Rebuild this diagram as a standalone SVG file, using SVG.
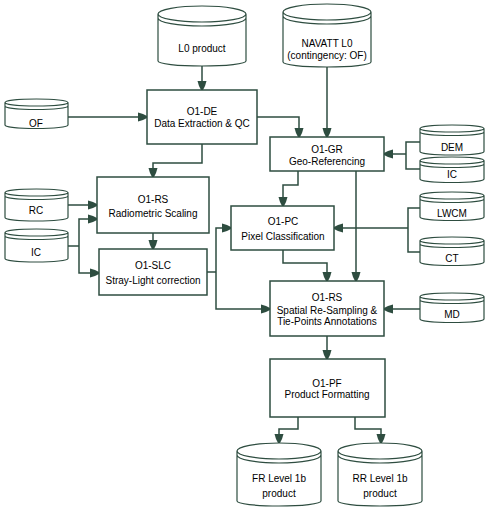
<svg xmlns="http://www.w3.org/2000/svg" width="490" height="512" viewBox="0 0 490 512">
<defs>
<style>
.box{fill:#fff;stroke:#2e4d40;stroke-width:1.5}
.cyl{fill:#fff;stroke:#2e4d40;stroke-width:1.2}
.c{fill:none;stroke:#2e4d40;stroke-width:1.5}
text{font-family:"Liberation Sans",Arial,sans-serif;font-size:10px;fill:#000;text-anchor:middle}
</style>
<marker id="ah" viewBox="-10 -5 10 10" refX="0" refY="0" markerWidth="10" markerHeight="10" markerUnits="userSpaceOnUse" orient="auto">
<path d="M-9,-4.5 L-9,4.5 L-4,3 L0,1 L0,-1 L-4,-3 Z" fill="#2e4d40"/>
</marker>
</defs>
<rect width="490" height="512" fill="#fff"/>
<g id="connectors">
<path class="c" d="M202 65 V90" marker-end="url(#ah)"/>
<path class="c" d="M68 117 H147" marker-end="url(#ah)"/>
<path class="c" d="M257 117 H299 V137" marker-end="url(#ah)"/>
<path class="c" d="M327 67 V137" marker-end="url(#ah)"/>
<path class="c" d="M202 144 V163 H153 V177" marker-end="url(#ah)"/>
<path class="c" d="M68 205 H97" marker-end="url(#ah)"/>
<path class="c" d="M68 246 H79"/>
<path class="c" d="M79 246 V219 H97" marker-end="url(#ah)"/>
<path class="c" d="M79 246 V273 H99" marker-end="url(#ah)"/>
<path class="c" d="M153 233 V249" marker-end="url(#ah)"/>
<path class="c" d="M207 272 H216"/>
<path class="c" d="M216 272 V228 H231" marker-end="url(#ah)"/>
<path class="c" d="M216 272 V309 H270" marker-end="url(#ah)"/>
<path class="c" d="M298 171 V185 H283 V206" marker-end="url(#ah)"/>
<path class="c" d="M356 171 V281" marker-end="url(#ah)"/>
<path class="c" d="M283 250 V263 H327 V281" marker-end="url(#ah)"/>
<path class="c" d="M420 142 H406 V169 H420"/>
<path class="c" d="M406 154 H384" marker-end="url(#ah)"/>
<path class="c" d="M420 208 H408 V252 H420"/>
<path class="c" d="M408 228 H334" marker-end="url(#ah)"/>
<path class="c" d="M420 309 H384" marker-end="url(#ah)"/>
<path class="c" d="M327 336 V359" marker-end="url(#ah)"/>
<path class="c" d="M298 417 V429 H279 V443" marker-end="url(#ah)"/>
<path class="c" d="M355 417 V429 H381 V443" marker-end="url(#ah)"/>
</g>
<g id="L0product">
<path class="cyl" d="M158 14 A44 8 0 0 1 246 14 A44 8 0 0 1 158 14 M158 18 A44 8 0 0 0 246 18 M158 14 V61 A44 5 0 0 0 246 61 V14"/>
<text x="202" y="52">L0 product</text>
</g>
<g id="NAVATT">
<path class="cyl" d="M283 12 A44 8 0 0 1 371 12 A44 8 0 0 1 283 12 M283 16 A44 8 0 0 0 371 16 M283 12 V62 A44 5 0 0 0 371 62 V12"/>
<text x="327" y="47">NAVATT L0</text>
<text x="327" y="59">(contingency: OF)</text>
</g>
<g id="OF">
<path class="cyl" d="M5 102.5 A31.5 3.5 0 0 1 68 102.5 A31.5 3.5 0 0 1 5 102.5 M5 106 A31.5 3.5 0 0 0 68 106 M5 102.5 V125 A31.5 3.5 0 0 0 68 125 V102.5"/>
<text x="36" y="127">OF</text>
</g>
<g id="RC">
<path class="cyl" d="M5 192.5 A31.5 3.5 0 0 1 68 192.5 A31.5 3.5 0 0 1 5 192.5 M5 196 A31.5 3.5 0 0 0 68 196 M5 192.5 V217.5 A31.5 3.5 0 0 0 68 217.5 V192.5"/>
<text x="36" y="214">RC</text>
</g>
<g id="ICleft">
<path class="cyl" d="M5 232.5 A31.5 3.5 0 0 1 68 232.5 A31.5 3.5 0 0 1 5 232.5 M5 236 A31.5 3.5 0 0 0 68 236 M5 232.5 V258.5 A31.5 3.5 0 0 0 68 258.5 V232.5"/>
<text x="36" y="256">IC</text>
</g>
<g id="DEM">
<path class="cyl" d="M420 128.5 A32 3.5 0 0 1 484 128.5 A32 3.5 0 0 1 420 128.5 M420 132 A32 3.5 0 0 0 484 132 M420 128.5 V151.5 A32 3.5 0 0 0 484 151.5 V128.5"/>
<text x="452" y="151">DEM</text>
</g>
<g id="ICright">
<path class="cyl" d="M420 160.5 A32 3.5 0 0 1 484 160.5 A32 3.5 0 0 1 420 160.5 M420 164 A32 3.5 0 0 0 484 164 M420 160.5 V179 A32 3.5 0 0 0 484 179 V160.5"/>
<text x="452" y="178">IC</text>
</g>
<g id="LWCM">
<path class="cyl" d="M420 195.5 A32 3.5 0 0 1 484 195.5 A32 3.5 0 0 1 420 195.5 M420 199 A32 3.5 0 0 0 484 199 M420 195.5 V217 A32 3.5 0 0 0 484 217 V195.5"/>
<text x="452" y="217">LWCM</text>
</g>
<g id="CT">
<path class="cyl" d="M420 240.5 A32 3.5 0 0 1 484 240.5 A32 3.5 0 0 1 420 240.5 M420 244 A32 3.5 0 0 0 484 244 M420 240.5 V262 A32 3.5 0 0 0 484 262 V240.5"/>
<text x="452" y="262">CT</text>
</g>
<g id="MD">
<path class="cyl" d="M420 296.5 A32 3.5 0 0 1 484 296.5 A32 3.5 0 0 1 420 296.5 M420 300 A32 3.5 0 0 0 484 300 M420 296.5 V319 A32 3.5 0 0 0 484 319 V296.5"/>
<text x="452" y="318">MD</text>
</g>
<g id="O1-DE">
<rect class="box" x="147" y="90" width="110" height="54"/>
<text x="202" y="115">O1-DE</text>
<text x="202" y="127">Data Extraction &amp; QC</text>
</g>
<g id="O1-GR">
<rect class="box" x="270" y="137" width="114" height="34"/>
<text x="327" y="153">O1-GR</text>
<text x="327" y="165">Geo-Referencing</text>
</g>
<g id="O1-RS-radiometric">
<rect class="box" x="97" y="177" width="112" height="56"/>
<text x="153" y="203">O1-RS</text>
<text x="153" y="217">Radiometric Scaling</text>
</g>
<g id="O1-SLC">
<rect class="box" x="99" y="249" width="108" height="46"/>
<text x="153" y="269">O1-SLC</text>
<text x="153" y="284">Stray-Light correction</text>
</g>
<g id="O1-PC">
<rect class="box" x="231" y="206" width="103" height="44"/>
<text x="283" y="225">O1-PC</text>
<text x="283" y="240">Pixel Classification</text>
</g>
<g id="O1-RS-spatial">
<rect class="box" x="270" y="281" width="114" height="55"/>
<text x="327" y="301">O1-RS</text>
<text x="327" y="314">Spatial Re-Sampling &amp;</text>
<text x="327" y="325">Tie-Points Annotations</text>
</g>
<g id="O1-PF">
<rect class="box" x="270" y="359" width="115" height="58"/>
<text x="327" y="387">O1-PF</text>
<text x="327" y="398">Product Formatting</text>
</g>
<g id="FR">
<path class="cyl" d="M237 451 A42 8 0 0 1 321 451 A42 8 0 0 1 237 451 M237 455 A42 8 0 0 0 321 455 M237 451 V501 A42 5 0 0 0 321 501 V451"/>
<text x="279" y="482">FR Level 1b</text>
<text x="279" y="497">product</text>
</g>
<g id="RR">
<path class="cyl" d="M338 451 A42 8 0 0 1 422 451 A42 8 0 0 1 338 451 M338 455 A42 8 0 0 0 422 455 M338 451 V501 A42 5 0 0 0 422 501 V451"/>
<text x="380" y="482">RR Level 1b</text>
<text x="380" y="497">product</text>
</g>
</svg>
